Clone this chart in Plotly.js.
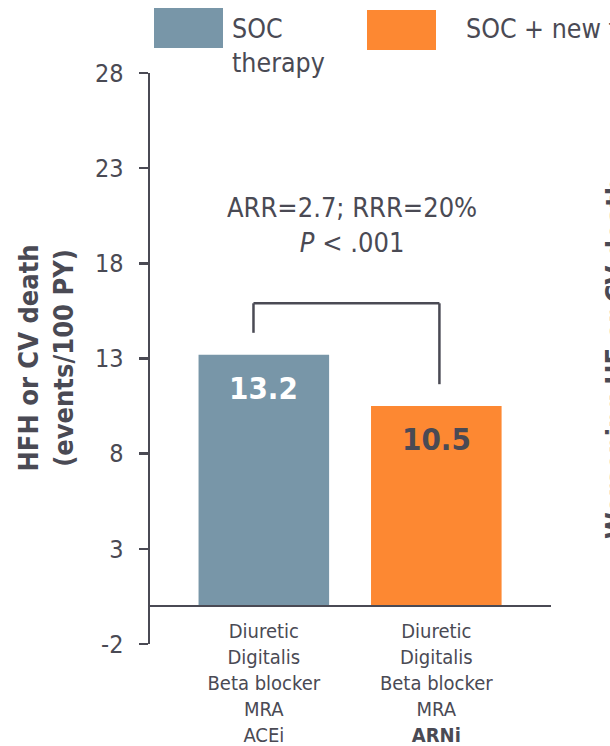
<!DOCTYPE html>
<html>
<head>
<meta charset="utf-8">
<script src="https://cdn.plot.ly/plotly-3.0.1.min.js"></script>
<style>
  html, body { margin: 0; padding: 0; background: #ffffff; }
  #chart { width: 610px; height: 746px; }
</style>
</head>
<body>
<div id="chart"></div>
<script>
// Treatment groups (legend) and the drug regimen listed under each bar
const groupNames = ['SOC<br>therapy', 'SOC + new therapy'];
const regimens = [
  'Diuretic<br>Digitalis<br>Beta blocker<br>MRA<br>ACEi',
  'Diuretic<br>Digitalis<br>Beta blocker<br>MRA<br><b>ARNi</b>'
];
// HFH or CV death, events per 100 patient-years
const eventRates = [13.2, 10.5];
const yTicks = [-2, 3, 8, 13, 18, 23, 28];
const statLines = ['ARR=2.7; RRR=20%', '<i>P</i> &lt; .001'];

const INK = '#4a4a54';
const barColors = ['#7896a8', '#fd8832'];
const labelColors = ['#ffffff', INK];
const FONT = '"DejaVu Sans Condensed", "DejaVu Sans", sans-serif';

// plot-area geometry helpers (paper coords from pixel positions)
const W = 610, H = 746, L = 150, R = 59, T = 73, B = 102;
const PW = W - L - R, PH = H - T - B;
const px = v => (v - L) / PW;
const py = v => (H - B - v) / PH;

const shapes = [];
const annotations = [];

// legend swatches and names
const swatchX = [[154, 223], [367, 436]];
const swatchY = [[8, 48], [10, 50]];
const nameX = [230, 464];
groupNames.forEach((name, i) => {
  shapes.push({
    type: 'rect', xref: 'paper', yref: 'paper',
    x0: px(swatchX[i][0]), x1: px(swatchX[i][1]),
    y0: py(swatchY[i][1]), y1: py(swatchY[i][0]),
    fillcolor: barColors[i], line: { width: 0 }
  });
  annotations.push({
    xref: 'paper', yref: 'paper', x: px(nameX[i]), y: py(11),
    xanchor: 'left', yanchor: 'top', align: 'left', showarrow: false,
    text: name, font: { family: FONT, size: 26.5, color: INK }
  });
});

// comparison bracket between the two bars
const legGap = 1.15, bracketTop = 15.9;
const legX = [-0.06, 1.018];
const lineStyle = { color: INK, width: 2.5 };
shapes.push(
  { type: 'line', xref: 'x', yref: 'y', x0: legX[0], x1: legX[0], y0: eventRates[0] + legGap, y1: bracketTop, line: lineStyle },
  { type: 'line', xref: 'x', yref: 'y', x0: legX[0], x1: legX[1], y0: bracketTop, y1: bracketTop, line: lineStyle },
  { type: 'line', xref: 'x', yref: 'y', x0: legX[1], x1: legX[1], y0: bracketTop, y1: eventRates[1] + legGap, line: lineStyle }
);

// effect-size text above the bracket
annotations.push({
  xref: 'x', yref: 'y', x: 0.51, y: 20, xanchor: 'center', yanchor: 'middle',
  showarrow: false, text: statLines.join('<br>'),
  font: { family: FONT, size: 27, color: INK }
});

// value labels inside the bars
eventRates.forEach((v, i) => {
  annotations.push({
    xref: 'x', yref: 'y', x: i, y: v - 1.75, xanchor: 'center', yanchor: 'middle',
    showarrow: false, text: '<b>' + v.toFixed(1) + '</b>',
    font: { family: FONT, size: 31, color: labelColors[i] }
  });
});

// y-axis title
annotations.push({
  xref: 'paper', yref: 'paper', x: px(45), y: 0.5, xanchor: 'center', yanchor: 'middle',
  textangle: -90, showarrow: false,
  text: '<b>HFH or CV death<br>(events/100 PY)</b>',
  font: { family: FONT, size: 27, color: INK }
});

// title of the neighbouring panel, running off the right edge
annotations.push({
  xref: 'paper', yref: 'paper', x: px(598), y: 0.5, xanchor: 'left', yanchor: 'middle',
  textangle: -90, showarrow: false,
  text: '<b>Worsening HF or CV death</b>',
  font: { family: FONT, size: 27, color: INK }
});

const trace = {
  type: 'bar',
  x: regimens.map((_, i) => i),
  y: eventRates,
  width: 0.757,
  marker: { color: barColors, line: { width: 0 } },
  hoverinfo: 'skip',
  showlegend: false
};

const layout = {
  width: W, height: H,
  margin: { l: L, r: R, t: T, b: B, pad: 0 },
  paper_bgcolor: '#ffffff', plot_bgcolor: '#ffffff',
  font: { family: FONT, color: INK },
  showlegend: false,
  xaxis: {
    range: [-0.66, 1.665],
    tickvals: regimens.map((_, i) => i),
    ticktext: regimens,
    ticks: '', showline: false, showgrid: false, zeroline: false,
    tickfont: { family: FONT, size: 20, color: INK },
    ticklabelstandoff: -27,
    fixedrange: true
  },
  yaxis: {
    range: [-2, 28],
    tickvals: yTicks,
    ticktext: yTicks.map(String),
    showline: true, linecolor: INK, linewidth: 2.5,
    ticks: 'outside', ticklen: 9, tickwidth: 2.5, tickcolor: INK,
    showgrid: false,
    zeroline: true, zerolinecolor: INK, zerolinewidth: 2.5,
    zerolinelayer: 'above traces',
    tickfont: { family: FONT, size: 25, color: INK },
    ticklabelstandoff: 10,
    fixedrange: true
  },
  shapes: shapes,
  annotations: annotations
};

Plotly.newPlot('chart', [trace], layout, { displayModeBar: false, staticPlot: true });
</script>
</body>
</html>
